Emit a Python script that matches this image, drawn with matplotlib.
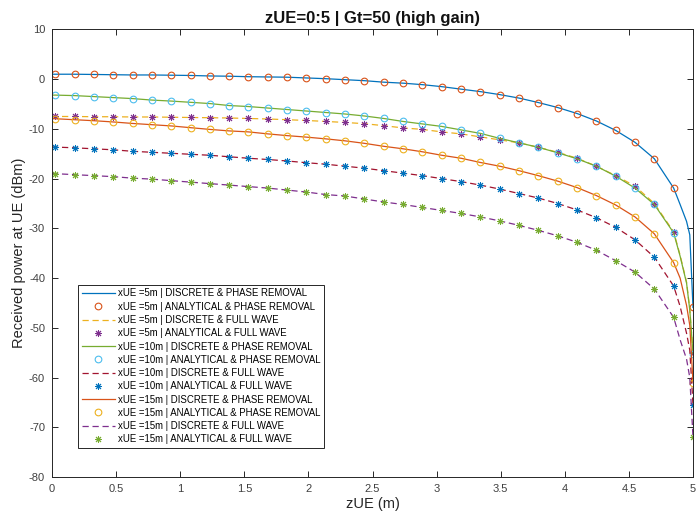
import numpy as np
import matplotlib
matplotlib.use("Agg")
import matplotlib.pyplot as plt

plt.rcParams['font.family'] = ['Liberation Sans', 'DejaVu Sans']
plt.rcParams['axes.unicode_minus'] = False

# zUE sampling: 200 samples on [0, 5]; analytical markers every 6th sample
z_fine = np.linspace(0, 5, 200)
mark_idx = np.arange(1, 200, 6)
line_idx = np.concatenate([[0], mark_idx[:-1], [195, 197, 198, 199]])
z_line = z_fine[line_idx]
mark_pos = [int(np.where(line_idx == k)[0][0]) for k in mark_idx]

# Received power (dBm) on the z_line grid
pr_5 = [1.0,
        1.0, 1.0, 0.95, 0.9, 0.85, 0.85, 0.8, 0.75, 0.65, 0.6, 0.5, 0.45, 0.4,
        0.25, 0.1, -0.1, -0.3, -0.6, -0.8, -1.1, -1.5, -2.0, -2.5, -3.1, -3.8,
        -4.7, -5.7, -6.9, -8.4, -10.3, -12.7, -16.0, -21.9,
        -25.2, -28.6, -31.3, -45.9]
fw_5 = [-7.5,
        -7.5, -7.5, -7.55, -7.55, -7.6, -7.6, -7.65, -7.7, -7.75, -7.8, -7.9,
        -8.0, -8.15, -8.3, -8.5, -8.7, -8.95, -9.35, -9.8, -10.1, -10.6, -11.0,
        -11.6, -12.2, -12.8, -13.7, -14.7, -15.9, -17.5, -19.4, -21.5, -25.0,
        -30.7,
        -35.4, -40.8, -46.2, -55.0]
pr_10 = [-3.2,
         -3.2, -3.3, -3.5, -3.7, -3.9, -4.2, -4.4, -4.65, -4.9, -5.3, -5.5,
         -5.8, -6.1, -6.4, -6.7, -7.0, -7.4, -7.9, -8.5, -9.0, -9.5, -10.2,
         -10.9, -11.9, -12.8, -13.7, -14.8, -16.0, -17.5, -19.5, -21.9, -25.2,
         -30.9,
         -35.6, -41.0, -46.4, -55.2]
fw_10 = [-13.6,
         -13.65, -13.8, -14.0, -14.2, -14.5, -14.7, -14.9, -15.1, -15.3, -15.6,
         -15.9, -16.15, -16.45, -16.8, -17.1, -17.5, -17.9, -18.4, -18.9, -19.4,
         -20.0, -20.6, -21.3, -22.1, -23.0, -23.9, -25.0, -26.3, -27.85, -29.8,
         -32.3, -35.8, -41.6,
         -45.7, -51.1, -54.5, -65.5]
pr_15 = [-7.9,
         -7.95, -8.15, -8.35, -8.6, -8.9, -9.15, -9.4, -9.75, -10.1, -10.4,
         -10.6, -11.0, -11.35, -11.65, -12.0, -12.4, -12.9, -13.5, -14.0, -14.6,
         -15.3, -15.9, -16.75, -17.5, -18.4, -19.4, -20.5, -21.8, -23.4, -25.3,
         -27.7, -31.1, -36.9,
         -40.0, -45.5, -49.5, -61.0]
fw_15 = [-18.9,
         -19.0, -19.2, -19.4, -19.6, -19.9, -20.1, -20.4, -20.7, -21.0, -21.3,
         -21.6, -21.9, -22.3, -22.7, -23.2, -23.5, -24.1, -24.7, -25.2, -25.8,
         -26.4, -27.0, -27.7, -28.5, -29.4, -30.4, -31.5, -32.8, -34.4, -36.5,
         -38.8, -42.2, -47.9,
         -52.4, -56.3, -60.0, -72.0]

x_ue = ["5m", "10m", "15m"]
x_ticks = [0, 0.5, 1, 1.5, 2, 2.5, 3, 3.5, 4, 4.5, 5]
x_tick_labels = ["0", "0.5", "1", "1.5", "2", "2.5", "3", "3.5", "4", "4.5", "5"]
y_ticks = [-80, -70, -60, -50, -40, -30, -20, -10, 0, 10]

colors = ['#0072BD', '#D95319', '#EDB120', '#7E2F8E', '#77AC30', '#4DBEEE', '#A2142F']
asterisk = (8, 2, 0)

fig = plt.figure(figsize=(7.0, 5.17), dpi=100)
ax = fig.add_axes([0.0743, 0.0774, 0.9157, 0.8656])

groups = [(x_ue[0], pr_5, fw_5), (x_ue[1], pr_10, fw_10), (x_ue[2], pr_15, fw_15)]
ci = 0
for name, pr, fw in groups:
    pr = np.asarray(pr)
    fw = np.asarray(fw)
    ax.plot(z_line, pr, '-', color=colors[ci % 7], lw=0.9,
            label=f"xUE ={name} | DISCRETE & PHASE REMOVAL")
    ci += 1
    ax.plot(z_line[mark_pos], pr[mark_pos], 'o', color=colors[ci % 7], ms=4.8,
            mfc='none', mew=0.8, linestyle='none',
            label=f"xUE ={name} | ANALYTICAL & PHASE REMOVAL")
    ci += 1
    ax.plot(z_line, fw, '--', color=colors[ci % 7], lw=0.9, dashes=(5, 3),
            label=f"xUE ={name} | DISCRETE & FULL WAVE")
    ci += 1
    ax.plot(z_line[mark_pos], fw[mark_pos], marker=asterisk, color=colors[ci % 7],
            ms=5, mew=0.7, linestyle='none',
            label=f"xUE ={name} | ANALYTICAL & FULL WAVE")
    ci += 1

ax.set_xlim(0, 5)
ax.set_ylim(-80, 10)
ax.set_xticks(x_ticks)
ax.set_xticklabels(x_tick_labels)
ax.set_yticks(y_ticks)
ax.tick_params(direction='in', length=4, width=0.7, top=True, right=True,
               labelsize=8, colors='#262626', labelcolor='#404040', pad=5)
for s in ax.spines.values():
    s.set_linewidth(0.7)
    s.set_color('#262626')

ax.set_xlabel("zUE (m)", fontsize=10.5, color='#262626', labelpad=2)
ax.set_ylabel("Received power at UE (dBm)", fontsize=10.5, color='#262626', labelpad=2)
ax.set_title("zUE=0:5 | Gt=50 (high gain)", fontsize=12, fontweight='bold',
             color='#111111', pad=5)

leg = ax.legend(loc='lower left', bbox_to_anchor=(0.041, 0.0655), borderaxespad=0,
                fontsize=6.9, handlelength=3.5, handletextpad=0.3, labelspacing=0.34,
                borderpad=0.35, fancybox=False, framealpha=1, edgecolor='#262626')
leg.get_frame().set_linewidth(0.7)

fig.savefig("out.png", dpi=100)
